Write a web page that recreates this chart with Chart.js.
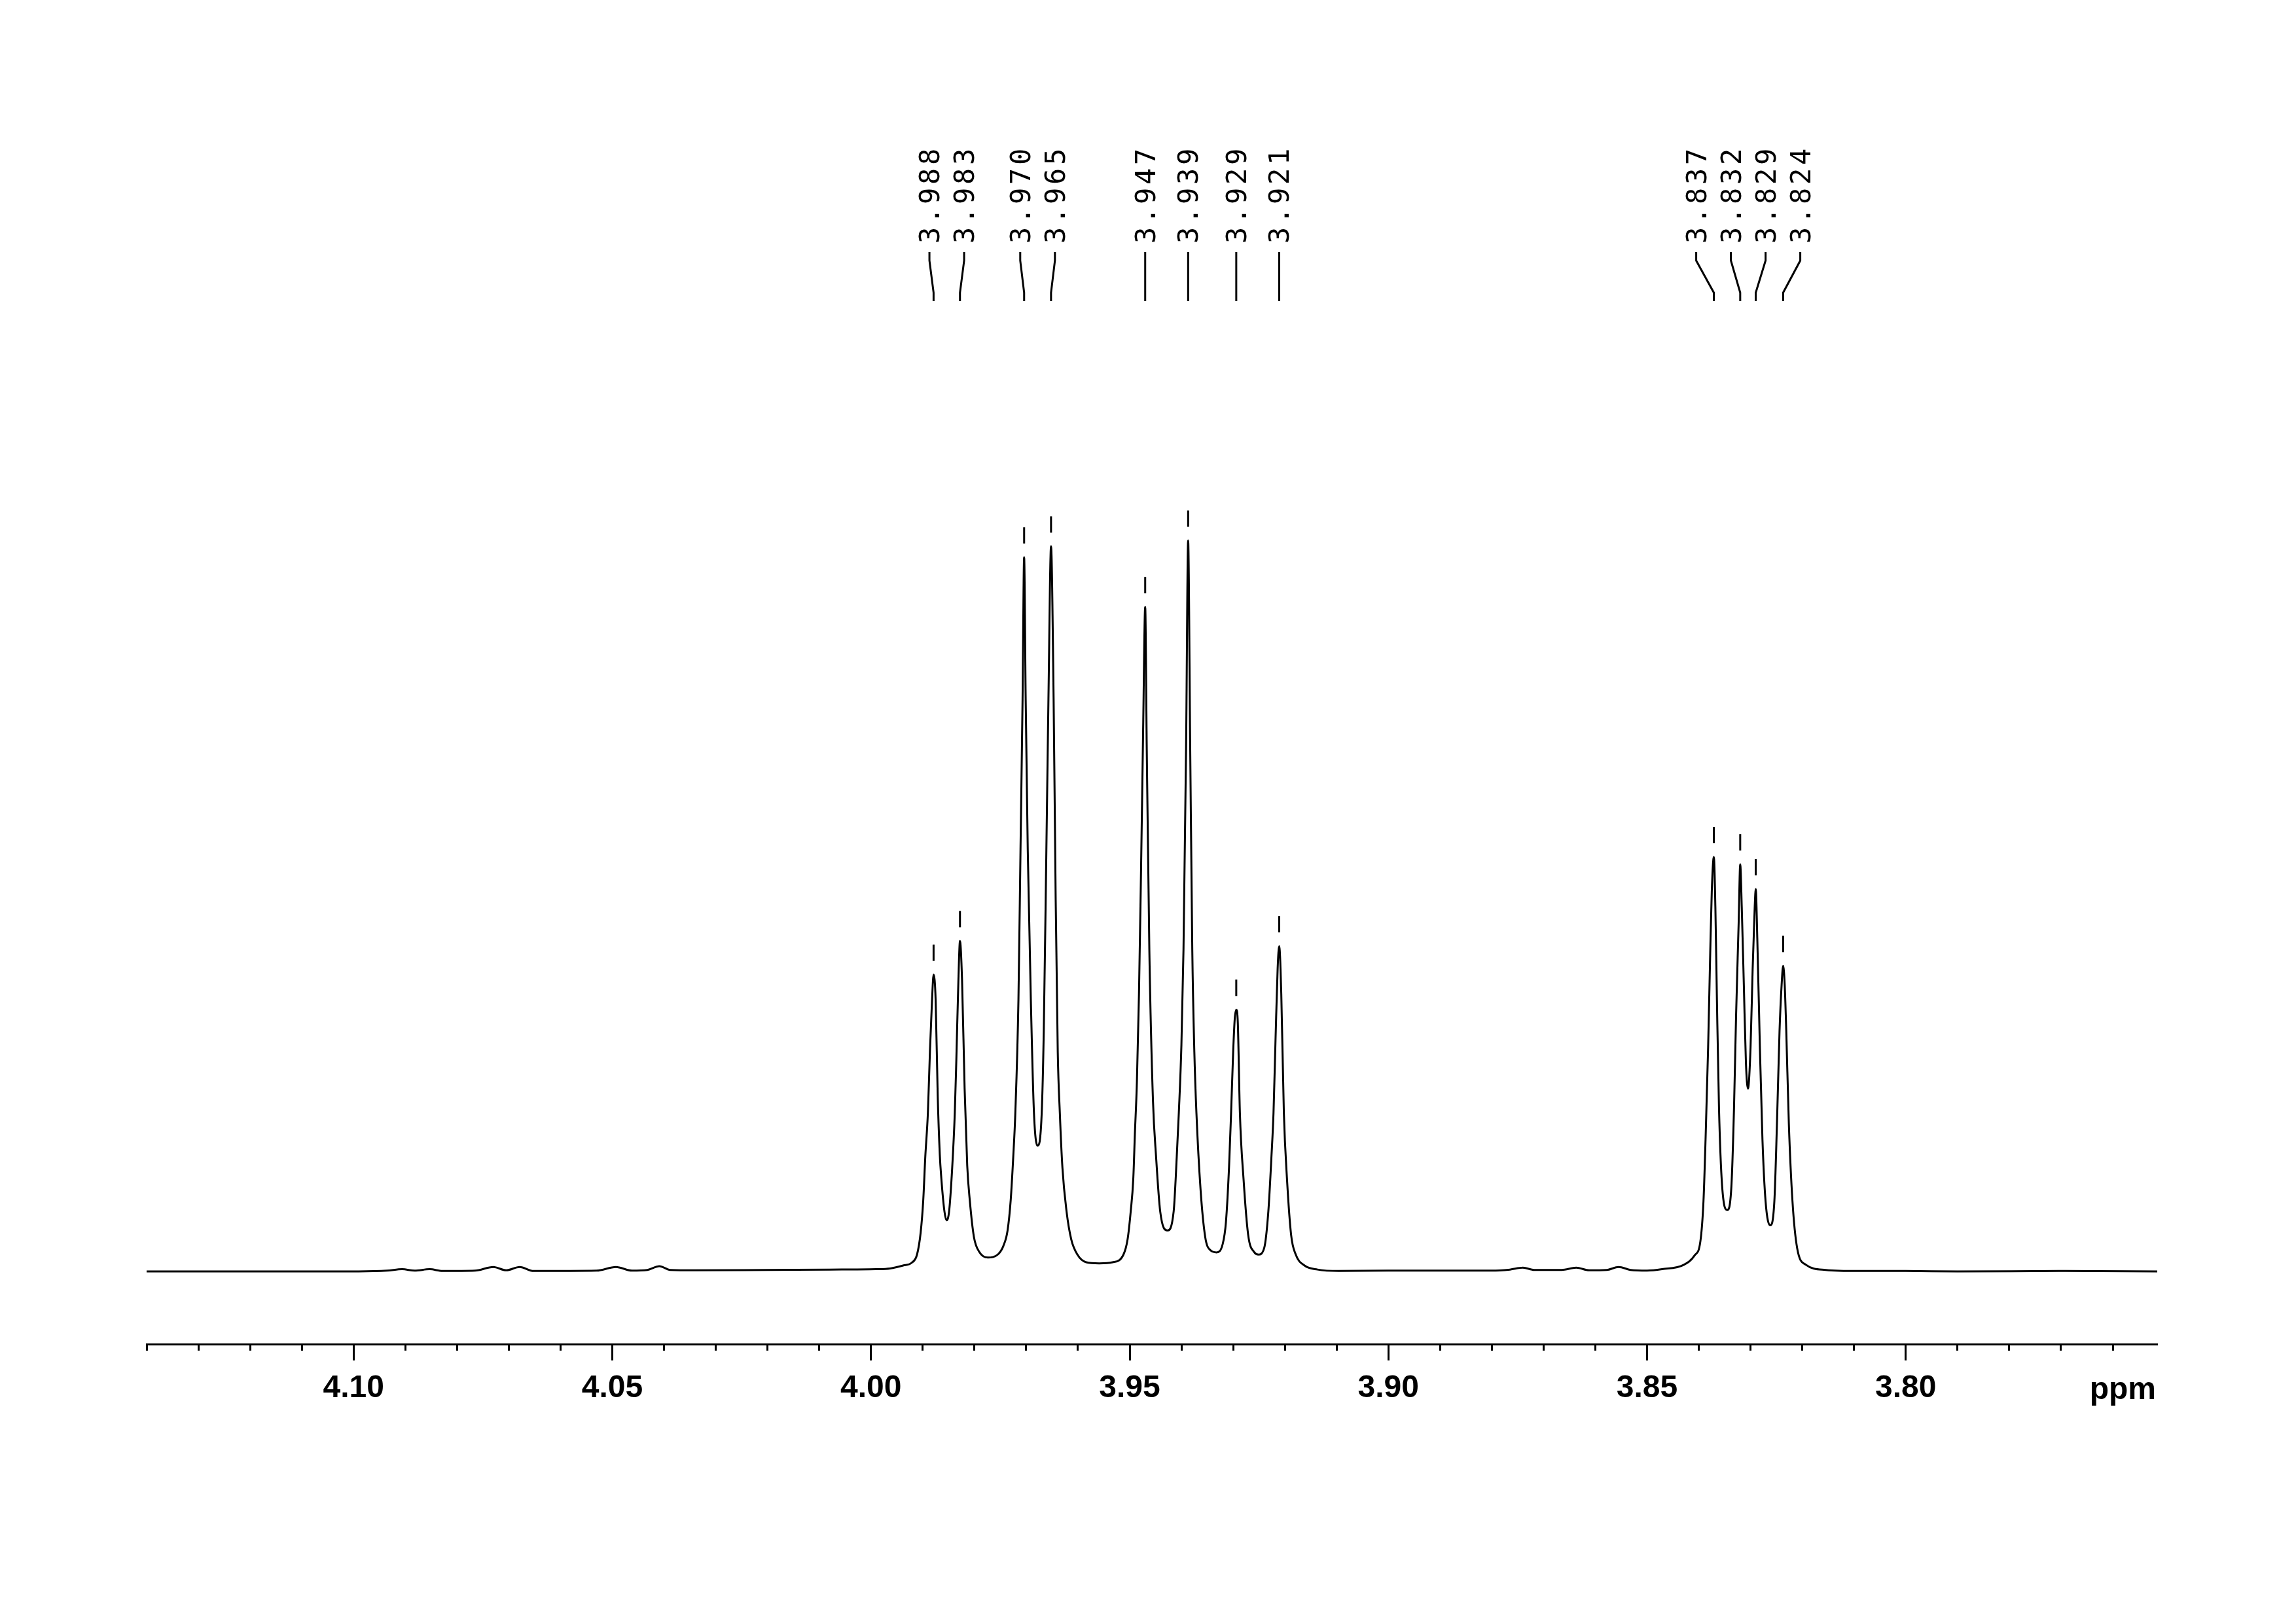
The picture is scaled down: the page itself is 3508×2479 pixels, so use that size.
<!DOCTYPE html>
<html>
<head>
<meta charset="utf-8">
<script src="https://cdn.jsdelivr.net/npm/chart.js@4.4.1/dist/chart.umd.min.js"></script>
<style>
    html, body { margin: 0; padding: 0; background: #fff; }
    canvas { display: block; }
</style>
</head>
<body>
<canvas id="spectrum" width="3508" height="2479" style="width:3508px;height:2479px"></canvas>
<script>
// traced spectrum, [ppm, intensity] pairs (tallest line = 100)
var leftBaseline = [
    [4.1400, 0.0], [4.0990, 0.0], [4.0935, 0.1], [4.0906, 0.3], [4.0882, 0.1], [4.0853, 0.3],
    [4.0828, 0.05], [4.0765, 0.1], [4.0730, 0.6], [4.0705, 0.15], [4.0679, 0.6], [4.0652, 0.05],
    [4.0530, 0.1], [4.0493, 0.6], [4.0462, 0.1], [4.0432, 0.2], [4.0409, 0.7], [4.0388, 0.2],
    [4.0340, 0.15], [4.0200, 0.2], [4.0080, 0.25], [3.9990, 0.3]
];

var multipletA = [
    [3.9963, 0.4], [3.9938, 0.8], [3.9921, 1.2], [3.9911, 2.3], [3.9904, 5.3], [3.9899, 9.7],
    [3.9895, 15.7], [3.9890, 21.7], [3.9886, 30.2], [3.9882, 37.1], [3.9879, 40.6], [3.9875, 37.1],
    [3.9871, 24.0], [3.9867, 16.0], [3.9864, 12.7], [3.9858, 8.2], [3.9854, 7.0], [3.9849, 8.2],
    [3.9843, 14.2], [3.9838, 21.7], [3.9835, 29.0], [3.9831, 39.9], [3.9828, 45.2], [3.9824, 39.9],
    [3.9819, 25.0], [3.9814, 14.5], [3.9809, 9.7], [3.9801, 4.7], [3.9790, 2.6], [3.9774, 1.9],
    [3.9755, 2.3], [3.9744, 3.5], [3.9736, 5.6], [3.9730, 9.7], [3.9725, 15.7], [3.9721, 21.7],
    [3.9715, 37.1], [3.9711, 57.7], [3.9707, 78.3], [3.9704, 97.7], [3.9701, 78.3], [3.9697, 57.7],
    [3.9691, 37.1], [3.9685, 21.7], [3.9678, 17.2], [3.9670, 21.7], [3.9666, 33.0], [3.9661, 57.7],
    [3.9657, 78.3], [3.9652, 99.2], [3.9647, 78.3], [3.9643, 50.8], [3.9639, 30.0], [3.9635, 21.7],
    [3.9630, 14.2], [3.9622, 8.2], [3.9613, 4.4], [3.9601, 2.3], [3.9584, 1.25], [3.9559, 1.1],
    [3.9533, 1.25], [3.9512, 2.3], [3.9504, 4.4], [3.9498, 8.2], [3.9493, 12.7], [3.9490, 18.7],
    [3.9486, 26.0], [3.9482, 38.0], [3.9478, 55.0], [3.9474, 74.0], [3.9470, 90.9], [3.9467, 71.5],
    [3.9462, 44.0], [3.9455, 23.4], [3.9449, 15.7], [3.9441, 8.2], [3.9427, 5.6], [3.9415, 8.2],
    [3.9409, 15.7], [3.9405, 21.7], [3.9400, 31.0], [3.9396, 44.0], [3.9391, 71.5], [3.9387, 100.0],
    [3.9383, 71.5], [3.9379, 44.0], [3.9375, 30.0], [3.9371, 21.7], [3.9363, 11.2], [3.9354, 4.7],
    [3.9344, 2.9], [3.9332, 2.6], [3.9320, 3.8], [3.9314, 6.7], [3.9308, 14.2], [3.9304, 21.7],
    [3.9300, 30.0], [3.9297, 34.5], [3.9294, 35.8], [3.9291, 34.0], [3.9287, 21.7], [3.9280, 12.7],
    [3.9271, 5.0], [3.9259, 2.6], [3.9251, 2.3], [3.9240, 3.2], [3.9232, 8.2], [3.9226, 15.7],
    [3.9222, 21.7], [3.9218, 32.0], [3.9214, 41.5], [3.9211, 44.5], [3.9207, 38.0], [3.9202, 21.7],
    [3.9196, 12.7], [3.9188, 5.0], [3.9179, 2.3], [3.9162, 0.8], [3.9137, 0.25], [3.9096, 0.05]
];

var midBaseline = [
    [3.9000, 0.1], [3.8800, 0.1], [3.8765, 0.25], [3.8740, 0.5], [3.8718, 0.2],
    [3.8665, 0.2], [3.8637, 0.5], [3.8612, 0.15], [3.8578, 0.2], [3.8555, 0.6], [3.8532, 0.2],
    [3.8500, 0.1]
];

var multipletB = [
    [3.8471, 0.3], [3.8429, 0.9], [3.8408, 2.2], [3.8397, 4.1], [3.8391, 9.6], [3.8387, 18.0],
    [3.8382, 30.7], [3.8378, 43.5], [3.8375, 51.9], [3.8371, 56.7], [3.8368, 49.8], [3.8365, 37.1],
    [3.8361, 22.3], [3.8355, 11.7], [3.8345, 8.4], [3.8337, 11.7], [3.8332, 22.3], [3.8328, 35.0],
    [3.8323, 47.7], [3.8320, 55.7], [3.8317, 49.8], [3.8313, 39.2], [3.8309, 28.6], [3.8305, 25.0],
    [3.8300, 30.7], [3.8296, 41.3], [3.8292, 49.8], [3.8290, 52.3], [3.8287, 45.6], [3.8282, 30.7],
    [3.8277, 18.0], [3.8271, 9.6], [3.8262, 6.3], [3.8254, 9.6], [3.8249, 20.2], [3.8244, 32.9],
    [3.8240, 39.2], [3.8237, 41.8], [3.8234, 39.2], [3.8231, 32.9], [3.8226, 20.2], [3.8219, 9.6],
    [3.8210, 3.2], [3.8193, 0.9], [3.8155, 0.2], [3.8092, 0.05]
];

var rightBaseline = [
    [3.8000, 0.05], [3.7900, 0.0], [3.7700, 0.05], [3.7514, 0.0]
];

// picked peaks
var peakPpm = [3.988, 3.983, 3.970, 3.965, 3.947, 3.939, 3.929, 3.921, 3.837, 3.832, 3.829, 3.824];

var ppmMin = 3.7514;
var ppmMax = 4.14;
var unitLabel = 'ppm';

var spectrum = [].concat(leftBaseline, multipletA, midBaseline, multipletB, rightBaseline)
    .map(function (p) { return { x: p[0], y: p[1] }; });

// push overlapping labels apart, keeping each group centred on its peaks
function spreadLabels(xs, gap) {
    var groups = xs.map(function (x, i) { return { start: i, n: 1, center: x }; });
    var merged = true;
    while (merged) {
        merged = false;
        for (var g = 0; g < groups.length - 1; g++) {
            var a = groups[g], b = groups[g + 1];
            var aRight = a.center + (a.n - 1) * gap / 2;
            var bLeft = b.center - (b.n - 1) * gap / 2;
            if (bLeft - aRight < gap) {
                var n = a.n + b.n, sum = 0;
                for (var k = a.start; k < a.start + n; k++) sum += xs[k];
                groups.splice(g, 2, { start: a.start, n: n, center: sum / n });
                merged = true;
                break;
            }
        }
    }
    var out = [];
    groups.forEach(function (gr) {
        for (var k = 0; k < gr.n; k++) out.push(gr.center + (k - (gr.n - 1) / 2) * gap);
    });
    return out;
}

var peakAnnotations = {
    id: 'peakAnnotations',
    afterDatasetsDraw: function (chart) {
        var ctx = chart.ctx;
        var pts = chart.getDatasetMeta(0).data;
        var tops = peakPpm.map(function (p) {
            var best = -1;
            spectrum.forEach(function (d, i) {
                if (Math.abs(d.x - p) < 0.0008 && (best < 0 || d.y > spectrum[best].y)) best = i;
            });
            return pts[best];
        });
        var labelX = spreadLabels(tops.map(function (t) { return t.x; }), 53);

        ctx.save();
        ctx.strokeStyle = '#000';
        ctx.fillStyle = '#000';
        ctx.lineWidth = 3;
        tops.forEach(function (t, i) {
            // small mark above the peak
            ctx.beginPath();
            ctx.moveTo(t.x, t.y - 21);
            ctx.lineTo(t.x, t.y - 46);
            ctx.stroke();

            // leader line
            ctx.beginPath();
            ctx.moveTo(labelX[i], 385);
            ctx.lineTo(labelX[i], 398);
            ctx.lineTo(t.x, 447);
            ctx.lineTo(t.x, 460);
            ctx.stroke();

            // rotated shift label
            ctx.save();
            ctx.translate(labelX[i], 372);
            ctx.rotate(-Math.PI / 2);
            ctx.font = '42px "DejaVu Sans Mono"';
            ctx.letterSpacing = '4.7px';
            ctx.textAlign = 'left';
            ctx.textBaseline = 'alphabetic';
            ctx.fillText(peakPpm[i].toFixed(3), 0, 15);
            ctx.restore();
        });

        ctx.font = 'bold 48px "Liberation Sans"';
        ctx.textAlign = 'right';
        ctx.textBaseline = 'alphabetic';
        ctx.fillText(unitLabel, chart.chartArea.right - 2, 2137);
        ctx.restore();
    }
};

var chart = new Chart(document.getElementById('spectrum'), {
    type: 'line',
    data: {
        datasets: [{
            data: spectrum,
            borderColor: '#000',
            borderWidth: 3,
            pointRadius: 0,
            fill: false,
            cubicInterpolationMode: 'monotone'
        }]
    },
    options: {
        responsive: false,
        devicePixelRatio: 1,
        animation: false,
        layout: { padding: { left: 224, right: 212, top: 714, bottom: 0 } },
        plugins: {
            legend: { display: false },
            tooltip: { enabled: false }
        },
        scales: {
            y: {
                display: false,
                min: -9.95,
                max: 110
            },
            xMinor: {
                type: 'linear',
                position: 'bottom',
                weight: 0,
                reverse: true,
                min: ppmMin,
                max: ppmMax,
                afterFit: function (scale) { scale.height = 0; },
                border: { display: false },
                grid: { drawOnChartArea: false, tickLength: 10, tickWidth: 3, tickColor: '#000' },
                ticks: { stepSize: 0.01, includeBounds: false, display: false, maxTicksLimit: 100, autoSkip: false }
            },
            x: {
                type: 'linear',
                position: 'bottom',
                weight: 1,
                reverse: true,
                min: ppmMin,
                max: ppmMax,
                afterFit: function (scale) { scale.height = 426; },
                border: { display: true, color: '#000', width: 3 },
                grid: { drawOnChartArea: false, tickLength: 25, tickWidth: 3, tickColor: '#000' },
                ticks: {
                    stepSize: 0.05,
                    includeBounds: false,
                    autoSkip: false,
                    maxRotation: 0,
                    padding: 14,
                    color: '#000',
                    font: { family: '"Liberation Sans"', size: 48, weight: 'bold' },
                    callback: function (value) { return value.toFixed(2); }
                }
            }
        }
    },
    plugins: [peakAnnotations]
});
</script>
</body>
</html>
